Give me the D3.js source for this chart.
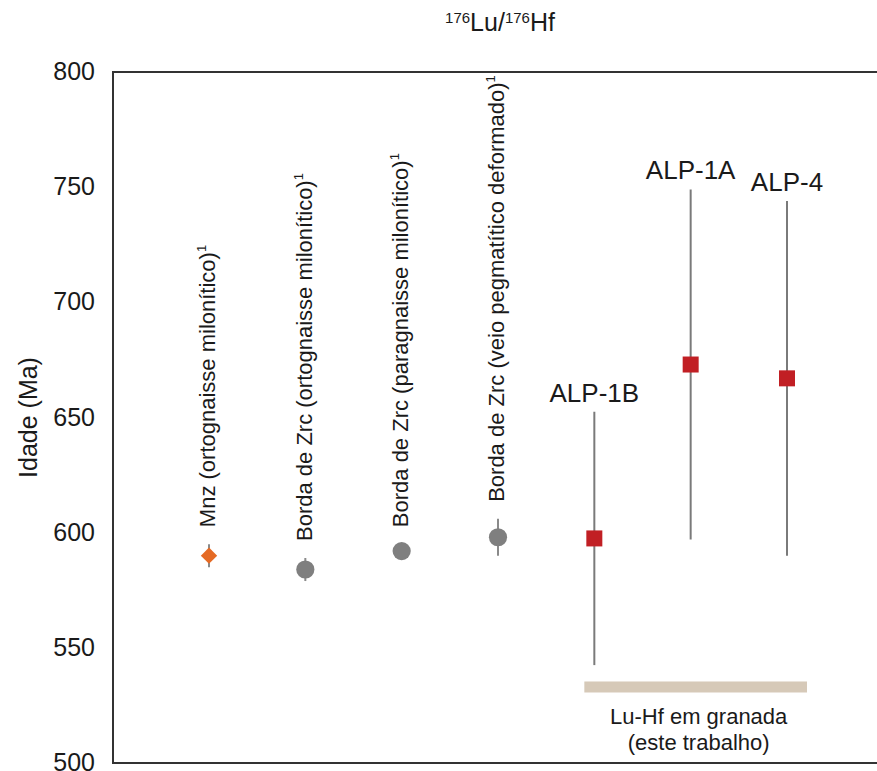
<!DOCTYPE html>
<html>
<head>
<meta charset="utf-8">
<script src="https://cdn.jsdelivr.net/npm/d3@7"></script>
<style>
  body { margin: 0; background: #fff; }
  text { font-family: "Liberation Sans", Arial, sans-serif; fill: #1a1a1a; }
</style>
</head>
<body>
<div class="chart"></div>
<script>
// sample names, ages (Ma) and 2-sigma errors
const labels = [
  'Mnz (ortognaisse milonítico)',
  'Borda de Zrc (ortognaisse milonítico)',
  'Borda de Zrc (paragnaisse milonítico)',
  'Borda de Zrc (veio pegmatítico deformado)',
  'ALP-1B',
  'ALP-1A',
  'ALP-4'
];
const ages = [590, 584, 592, 598, 597.5, 673, 667];
const errors = [5, 5, 3, 8, 55, 76, 77];
const kinds = ['mnz', 'zrc', 'zrc', 'zrc', 'grt', 'grt', 'grt'];
const yTicks = [500, 550, 600, 650, 700, 750, 800];
const bandAge = 533;
const bandText = ['Lu-Hf em granada', '(este trabalho)'];

const data = labels.map((d, i) => ({label: d, age: ages[i], err: errors[i], kind: kinds[i]}));

const w = 877;
const h = 771;
const svg = d3.select('.chart')
              .append('svg')
              .attr('width', w)
              .attr('height', h);

const y = d3.scaleLinear().domain([500, 800]).range([763, 72]);
const x = d3.scalePoint().domain(labels).range([209, 787]);

// title
const title = svg.append('text')
  .attr('x', 500)
  .attr('y', 31)
  .attr('text-anchor', 'middle')
  .attr('font-size', 25);
title.append('tspan').attr('font-size', 15).attr('dy', -8).text('176');
title.append('tspan').attr('dy', 8).text('Lu/');
title.append('tspan').attr('font-size', 15).attr('dy', -8).text('176');
title.append('tspan').attr('dy', 8).text('Hf');

// y axis (labels only, no ticks)
const yAxis = d3.axisLeft(y).tickValues(yTicks).tickSize(0).tickPadding(18);
const gy = svg.append('g')
  .attr('transform', 'translate(113,0)')
  .call(yAxis);
gy.select('.domain').remove();
gy.selectAll('text')
  .attr('font-size', 25)
  .attr('dy', '0.3em')
  .attr('font-family', '"Liberation Sans", Arial, sans-serif')
  .attr('fill', '#1a1a1a');

// frame: left, top and bottom lines
svg.append('path')
  .attr('d', `M${w},${y(800)}H113V${y(500)}H${w}`)
  .attr('fill', 'none')
  .attr('stroke', '#333')
  .attr('stroke-width', 2);

svg.append('text')
  .attr('transform', `translate(28,${(y(800) + y(500)) / 2}) rotate(-90)`)
  .attr('text-anchor', 'middle')
  .attr('dy', '0.35em')
  .attr('font-size', 25)
  .text('Idade (Ma)');

// error bars
svg.selectAll('line.err')
  .data(data)
  .enter()
  .append('line')
  .attr('class', 'err')
  .attr('x1', d => x(d.label))
  .attr('x2', d => x(d.label))
  .attr('y1', d => y(d.age + d.err))
  .attr('y2', d => y(d.age - d.err))
  .attr('stroke', d => d.kind == 'grt' ? '#7a7a7a' : '#8a8a8a')
  .attr('stroke-width', 2);

// markers
svg.selectAll('path.mark')
  .data(data)
  .enter()
  .append('path')
  .attr('class', 'mark')
  .attr('transform', d => `translate(${x(d.label)},${y(d.age)})`)
  .attr('d', function(d) {
    if (d.kind == 'mnz') return d3.symbol(d3.symbolDiamond2, 170)();
    if (d.kind == 'zrc') return d3.symbol(d3.symbolCircle, 260)();
    return d3.symbol(d3.symbolSquare, 256)();
  })
  .attr('fill', function(d) {
    if (d.kind == 'mnz') return '#e56a24';
    if (d.kind == 'zrc') return '#7f7f7f';
    return '#c11f24';
  });

// rotated labels for literature data
const rot = svg.selectAll('text.rot')
  .data(data.filter(d => d.kind != 'grt'))
  .enter()
  .append('text')
  .attr('class', 'rot')
  .attr('transform', d => `translate(${x(d.label)},${y(d.age + d.err) - 17}) rotate(-90)`)
  .attr('dy', '0.28em')
  .attr('font-size', 22);
rot.append('tspan').text(d => d.label);
rot.append('tspan').attr('font-size', 13).attr('dy', -9).text('1');

// sample labels for this work
svg.selectAll('text.grt')
  .data(data.filter(d => d.kind == 'grt'))
  .enter()
  .append('text')
  .attr('class', 'grt')
  .attr('x', d => x(d.label))
  .attr('y', d => y(d.age + d.err) - 10)
  .attr('text-anchor', 'middle')
  .attr('font-size', 26)
  .text(d => d.label);

// band under garnet ages
const grt = data.filter(d => d.kind == 'grt');
const bx0 = x(grt[0].label) - 10;
const bx1 = x(grt[grt.length - 1].label) + 20;
svg.append('rect')
  .attr('x', bx0)
  .attr('y', y(bandAge) - 5.5)
  .attr('width', bx1 - bx0)
  .attr('height', 11)
  .attr('fill', '#d6c9b8');

svg.selectAll('text.band')
  .data(bandText)
  .enter()
  .append('text')
  .attr('class', 'band')
  .attr('x', (bx0 + bx1) / 2 + 3)
  .attr('y', (d, i) => y(bandAge) + 37 + i * 26)
  .attr('text-anchor', 'middle')
  .attr('font-size', 22)
  .text(d => d);
</script>
</body>
</html>
